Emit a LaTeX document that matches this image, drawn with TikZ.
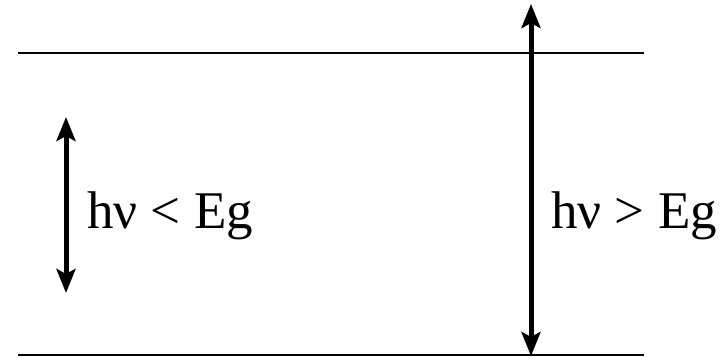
\documentclass[tikz,border=0pt]{standalone}
\usepackage{fontspec}
\setmainfont{Liberation Serif}
\usetikzlibrary{arrows.meta}
\tikzset{
  level/.style={line width=2pt},
  photon/.style={line width=5pt, {Stealth[length=24pt,width=19pt,inset=5pt]}-{Stealth[length=24pt,width=19pt,inset=5pt]}},
  lbl/.style={inner sep=0pt, anchor=base west, font=\fontsize{53}{62}\selectfont}
}
\begin{document}
\begin{tikzpicture}[x=1pt,y=-1pt]
\useasboundingbox (0,0) rectangle (728,357);
\coordinate (t1) at (18,52.5);
\coordinate (t2) at (644,52.5);
\coordinate (b1) at (18,355);
\coordinate (b2) at (644,355);
\draw[level] (t1) -- (t2);
\draw[level] (b1) -- (b2);
\coordinate (la) at (66,117);
\coordinate (lb) at (66,293);
\coordinate (ra) at (531,4);
\coordinate (rb) at (531,356);
\draw[photon] (la) -- (lb);
\draw[photon] (ra) -- (rb);
\node[lbl] (l1) at (87,228) {hν < Eg};
\node[lbl] (l2) at (551,228) {hν > Eg};
\end{tikzpicture}
\end{document}
